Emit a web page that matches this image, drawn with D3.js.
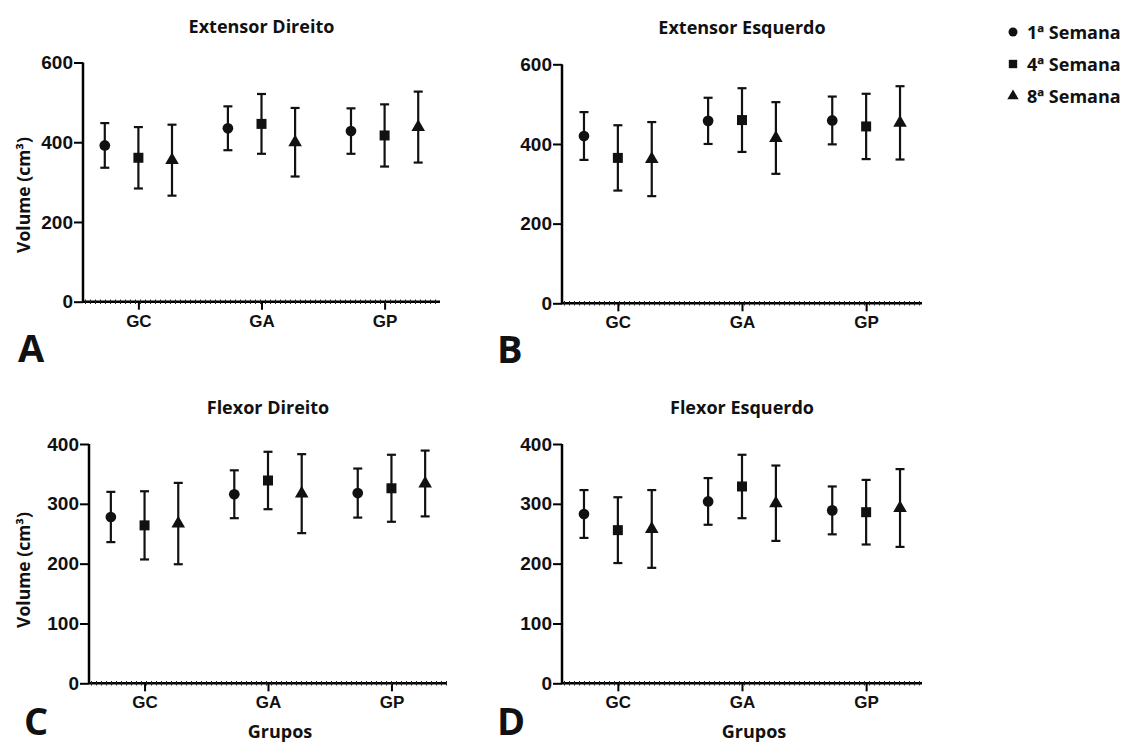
<!DOCTYPE html>
<html>
<head>
<meta charset="utf-8">
<script src="https://cdn.jsdelivr.net/npm/d3@7"></script>
<style>
  body { margin: 0; background: #fff; }
  .title, .lab, .legend text, .letter { font-family: 'Open Sans', sans-serif; font-weight: 700; fill: #111; }
  .tick text { font-family: 'Liberation Sans', Arial, sans-serif; font-weight: 700; fill: #111; }
</style>
</head>
<body>
<script>
var groups = ['GC', 'GA', 'GP'];
var weeks = ['1ª Semana', '4ª Semana', '8ª Semana'];

// mean and SD, [group][week]
var extDireitoMean = [[392, 361, 355], [435, 446, 400], [428, 417, 438]];
var extDireitoSd   = [[56, 77, 89], [55, 75, 86], [57, 78, 89]];
var extEsquerdoMean = [[420, 365, 362], [458, 460, 415], [459, 444, 453]];
var extEsquerdoSd   = [[60, 82, 93], [58, 80, 90], [60, 82, 92]];
var flexDireitoMean = [[278, 264, 267], [316, 339, 317], [318, 326, 334]];
var flexDireitoSd   = [[42, 57, 68], [40, 48, 66], [41, 56, 55]];
var flexEsquerdoMean = [[283, 256, 258], [304, 329, 301], [289, 286, 293]];
var flexEsquerdoSd   = [[40, 55, 65], [39, 53, 63], [40, 54, 65]];

var ticksExt = [0, 200, 400, 600];
var ticksFlex = [0, 100, 200, 300, 400];

var panels = [
  { title: 'Extensor Direito', letter: 'A', mean: extDireitoMean, sd: extDireitoSd, ticks: ticksExt,
    x0: 83, x1: 440, yTop: 62.5, yBot: 301.7, ylab: 195, xlab: false },
  { title: 'Extensor Esquerdo', letter: 'B', mean: extEsquerdoMean, sd: extEsquerdoSd, ticks: ticksExt,
    x0: 562, x1: 922, yTop: 64.3, yBot: 303.3, ylab: 0, xlab: false },
  { title: 'Flexor Direito', letter: 'C', mean: flexDireitoMean, sd: flexDireitoSd, ticks: ticksFlex,
    x0: 89, x1: 447, yTop: 444, yBot: 683.3, ylab: 570, xlab: true },
  { title: 'Flexor Esquerdo', letter: 'D', mean: flexEsquerdoMean, sd: flexEsquerdoSd, ticks: ticksFlex,
    x0: 562, x1: 922, yTop: 444, yBot: 683.3, ylab: 0, xlab: true }
];

var W = 1129, H = 745;
var svg = d3.select('body').append('svg').attr('width', W).attr('height', H);

var shapes = [d3.symbolCircle, d3.symbolSquare, d3.symbolTriangle];
var sizes = [90, 100, 80];

panels.forEach(function(p) {
  var g = svg.append('g');
  var x = d3.scalePoint().domain(groups).range([p.x0, p.x1]).padding(0.45);
  var inner = d3.scalePoint().domain(weeks).range([-0.273 * x.step(), 0.273 * x.step()]);
  var y = d3.scaleLinear().domain([0, d3.max(p.ticks)]).range([p.yBot, p.yTop]);

  // y axis
  var ya = g.append('g').attr('transform', 'translate(' + p.x0 + ',0)')
    .call(d3.axisLeft(y).tickValues(p.ticks).tickSize(9).tickPadding(1));
  ya.select('.domain').attr('stroke-width', 2.5).attr('d', 'M0,' + p.yBot + 'V' + p.yTop);
  ya.selectAll('.tick line').attr('stroke-width', 2);
  ya.selectAll('.tick text').attr('font-size', 19);

  // x axis
  var xa = g.append('g').attr('transform', 'translate(0,' + p.yBot + ')')
    .call(d3.axisBottom(x).tickSize(8).tickPadding(5));
  xa.select('.domain').attr('stroke-width', 2.5).attr('d', 'M' + p.x0 + ',0H' + p.x1);
  xa.selectAll('.tick line').attr('stroke-width', 2);
  xa.selectAll('.tick text').attr('font-size', 17);
  // small hatch along the x axis line
  g.append('line')
    .attr('x1', p.x0 + 2).attr('x2', p.x1)
    .attr('y1', p.yBot).attr('y2', p.yBot)
    .attr('stroke', '#222').attr('stroke-width', 4.5)
    .attr('stroke-dasharray', '1,4');

  // error bars + markers
  var pts = [];
  groups.forEach(function(gr, i) {
    weeks.forEach(function(w, j) {
      pts.push({ g: gr, w: w, j: j, m: p.mean[i][j], s: p.sd[i][j] });
    });
  });
  var cx = function(d) { return x(d.g) + inner(d.w); };
  var bars = g.selectAll('.bar').data(pts).enter().append('g').attr('class', 'bar')
    .attr('stroke', '#111').attr('stroke-width', 2.2);
  bars.append('line')
    .attr('x1', cx).attr('x2', cx)
    .attr('y1', function(d) { return y(d.m + d.s); })
    .attr('y2', function(d) { return y(d.m - d.s); });
  bars.append('line')
    .attr('x1', function(d) { return cx(d) - 4.5; }).attr('x2', function(d) { return cx(d) + 4.5; })
    .attr('y1', function(d) { return y(d.m + d.s); }).attr('y2', function(d) { return y(d.m + d.s); });
  bars.append('line')
    .attr('x1', function(d) { return cx(d) - 4.5; }).attr('x2', function(d) { return cx(d) + 4.5; })
    .attr('y1', function(d) { return y(d.m - d.s); }).attr('y2', function(d) { return y(d.m - d.s); });
  g.selectAll('.pt').data(pts).enter().append('path')
    .attr('transform', function(d) { return 'translate(' + cx(d) + ',' + y(d.m) + ')'; })
    .attr('d', function(d) { return d3.symbol().type(shapes[d.j]).size(sizes[d.j])(); })
    .attr('fill', '#111');

  g.append('text').attr('class', 'title')
    .attr('x', (p.x0 + p.x1) / 2).attr('y', p.yTop - 30)
    .attr('text-anchor', 'middle').attr('font-size', 18).text(p.title);

  if (p.ylab) {
    g.append('text').attr('class', 'lab')
      .attr('transform', 'translate(30,' + p.ylab + ') rotate(-90)')
      .attr('text-anchor', 'middle').attr('font-size', 17.5)
      .text('Volume (cm³)');
  }
  if (p.xlab) {
    g.append('text').attr('class', 'lab')
      .attr('x', (p.x0 + p.x1) / 2 + 12).attr('y', 738)
      .attr('text-anchor', 'middle').attr('font-size', 18).text('Grupos');
  }
  g.append('text').attr('class', 'letter')
    .attr('x', p.x0 - 65).attr('y', Math.min(p.yBot + 60, 735))
    .attr('font-size', 38).text(p.letter);
});

// legend
var lg = svg.append('g').attr('class', 'legend');
var ly = d3.scalePoint().domain(weeks).range([32, 96]);
weeks.forEach(function(w, j) {
  lg.append('path')
    .attr('transform', 'translate(1013,' + ly(w) + ')')
    .attr('d', d3.symbol().type(shapes[j]).size(sizes[j] * 0.7)())
    .attr('fill', '#111');
  lg.append('text').attr('x', 1027).attr('y', ly(w) + 6.5)
    .attr('font-size', 18).text(w);
});
</script>
</body>
</html>
